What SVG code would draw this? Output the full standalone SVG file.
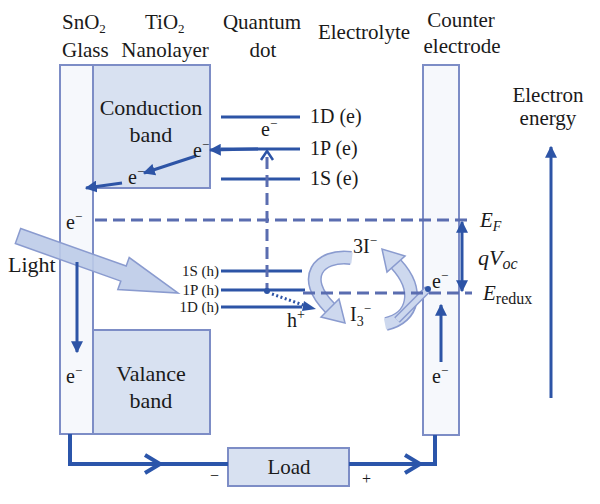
<svg xmlns="http://www.w3.org/2000/svg" width="600" height="504" viewBox="0 0 600 504" font-family="'Liberation Serif', 'DejaVu Serif', serif">
<defs>
<style>
text{font-family:'Liberation Serif','DejaVu Serif',serif;fill:#1a1a1a}
.h{font-size:21px}
.bl{font-size:22px}
.lv{font-size:20px}
.sm{font-size:15px}
.el{font-size:20px}
.box{fill:#d8e1f1;stroke:#7d8dc6;stroke-width:2}
.elec{fill:#f6f8fc;stroke:#7d8dc6;stroke-width:2}
.lvl{stroke:#2d54a6;stroke-width:3;fill:none}
.dash{stroke:#5a6db0;stroke-width:3;stroke-dasharray:12 6;fill:none}
.wire{stroke:#2b55aa;stroke-width:4;fill:none}
.arr{stroke:#2d54a6;stroke-width:3;fill:none}
.big{fill:#cdd8ee;stroke:#8a9bcf;stroke-width:1.5}
.bo{stroke:#8a9bcf;fill:none}
.bi{stroke:#cdd8ee;fill:none}
</style>
<marker id="ah" viewBox="0 0 10 10" refX="9" refY="5" markerWidth="4" markerHeight="4" orient="auto-start-reverse"><path d="M0,0 L10,5 L0,10 z" fill="#2d54a6"/></marker>
</defs>

<g id="headers">
<text class="h" x="62" y="29">SnO<tspan dy="4" font-size="13">2</tspan></text>
<text class="h" x="62" y="57">Glass</text>
<text class="h" x="145" y="29">TiO<tspan dy="4" font-size="13">2</tspan></text>
<text class="h" x="165" y="57" text-anchor="middle">Nanolayer</text>
<text class="h" x="262" y="29" text-anchor="middle">Quantum</text>
<text class="h" x="263" y="57" text-anchor="middle">dot</text>
<text class="h" x="364" y="39" text-anchor="middle">Electrolyte</text>
<text class="h" x="461" y="27" text-anchor="middle">Counter</text>
<text class="h" x="462" y="53" text-anchor="middle">electrode</text>
<text class="h" x="548" y="102" text-anchor="middle">Electron</text>
<text class="h" x="548" y="125" text-anchor="middle">energy</text>
</g>

<g id="glass"><rect class="elec" x="60" y="65" width="33" height="369"/></g>
<g id="conduction-band">
<rect class="box" x="93" y="65" width="117" height="123"/>
<text class="bl" x="151" y="115" text-anchor="middle">Conduction</text>
<text class="bl" x="151" y="142" text-anchor="middle">band</text>
</g>
<g id="valance-band">
<rect class="box" x="93" y="330" width="117" height="104"/>
<text class="bl" x="151" y="381" text-anchor="middle">Valance</text>
<text class="bl" x="151" y="408" text-anchor="middle">band</text>
</g>
<g id="counter-electrode"><rect class="elec" x="423" y="65" width="36" height="370"/></g>

<g id="load">
<rect class="box" x="228" y="448" width="121" height="38"/>
<text class="h" x="289" y="474" text-anchor="middle">Load</text>
</g>

<g id="light">
<g transform="translate(18,236) rotate(19.6)"><path class="big" fill-opacity="0.9" d="M0,-8 H112 V-17 L170,0 L112,17 V8 H0 Z" style="fill:#bccbe8"/></g>
<text class="bl" x="8" y="272">Light</text>
</g>

<g id="qd-levels">
<line class="lvl" x1="221" y1="117" x2="300" y2="117"/>
<line class="lvl" x1="221" y1="149" x2="300" y2="149"/>
<line class="lvl" x1="221" y1="179" x2="300" y2="179"/>
<text class="lv" x="310" y="123">1D (e)</text>
<text class="lv" x="310" y="155">1P (e)</text>
<text class="lv" x="310" y="185">1S (e)</text>
<line class="lvl" x1="221" y1="271" x2="302" y2="271"/>
<line class="lvl" x1="221" y1="290" x2="305" y2="290" stroke-width="4"/>
<line class="lvl" x1="221" y1="307" x2="302" y2="307"/>
<text class="sm" x="219" y="276" text-anchor="end">1S (h)</text>
<text class="sm" x="219" y="295" text-anchor="end">1P (h)</text>
<text class="sm" x="219" y="312" text-anchor="end">1D (h)</text>
</g>

<g id="redox-arrows">
<path class="bo" stroke-width="14" d="M351,258 C318,254 300,278 330,308"/>
<path class="bi" stroke-width="11" d="M352,258 C318,254 300,278 330,308"/>
<path class="big" d="M339,299 L345,323 L321,317 Z"/>
<path class="bo" stroke-width="14" d="M386,324 C414,318 420,290 396,264"/>
<path class="bi" stroke-width="11" d="M385,324 C414,318 420,290 396,264"/>
<path class="big" d="M405,256 L382,249 L387,272 Z"/>
<path class="bo" stroke-width="8" d="M428,289 L397,320"/>
<path class="bi" stroke-width="5" d="M428,289 L397,320"/>
<circle cx="428" cy="289" r="3" fill="#2d54a6"/>
</g>

<g id="connectors">
<line class="dash" x1="95" y1="220" x2="472" y2="220"/>
<line class="dash" x1="303" y1="293" x2="472" y2="293"/>
<line class="dash" x1="267" y1="157" x2="267" y2="290"/>
<path d="M261,160 L267,151 L273,160" stroke="#2d54a6" stroke-width="2.5" fill="none"/>
<circle cx="267" cy="291" r="3" fill="#2d54a6"/>
<line class="arr" stroke-width="4" x1="258" y1="149" x2="210" y2="150" marker-end="url(#ah)"/>
<line class="arr" x1="196" y1="156" x2="144" y2="173" marker-end="url(#ah)"/>
<line class="arr" x1="122" y1="183" x2="86" y2="188" marker-end="url(#ah)"/>
<line class="arr" stroke-dasharray="2 2.5" stroke-width="2.5" x1="272" y1="294" x2="306" y2="306"/>
<path d="M304,301 L316,309 L302,311 Z" fill="#2d54a6"/>
<line class="arr" x1="77" y1="262" x2="77" y2="352" marker-end="url(#ah)"/>
<line class="arr" x1="441" y1="362" x2="441" y2="305" marker-end="url(#ah)"/>
<line class="arr" stroke-width="2" x1="462" y1="222" x2="462" y2="291" marker-start="url(#ah)" marker-end="url(#ah)"/>
<line class="arr" x1="551" y1="398" x2="551" y2="147" marker-end="url(#ah)"/>
<path class="wire" d="M70,434 V464 H228"/>
<path class="wire" d="M349,464 H435 V435"/>
<path class="wire" d="M145,455 L160,464 L145,473"/>
<path class="wire" d="M405,455 L420,464 L405,473"/>
</g>

<g id="labels">
<text class="el" x="261" y="136">e<tspan dy="-8" font-size="13">−</tspan></text>
<text class="el" x="193" y="157">e<tspan dy="-8" font-size="13">−</tspan></text>
<text class="el" x="128" y="184">e<tspan dy="-8" font-size="13">−</tspan></text>
<text class="el" x="66" y="229">e<tspan dy="-8" font-size="13">−</tspan></text>
<text class="el" x="66" y="383">e<tspan dy="-8" font-size="13">−</tspan></text>
<text class="el" x="432" y="383">e<tspan dy="-8" font-size="13">−</tspan></text>
<text class="el" x="432" y="288">e<tspan dy="-8" font-size="13">−</tspan></text>
<text class="el" x="353" y="253" font-size="19">3I<tspan dy="-8" font-size="13">−</tspan></text>
<text class="el" x="350" y="321" font-size="19">I<tspan dy="5" font-size="14">3</tspan><tspan dy="-13" font-size="13">−</tspan></text>
<text class="el" x="287" y="327">h<tspan dy="-8" font-size="14">+</tspan></text>
<text x="480" y="227" font-size="21" font-style="italic">E<tspan dy="4" font-size="14">F</tspan></text>
<text x="478" y="265" font-size="22" font-style="italic">qV<tspan dy="4" font-size="16">oc</tspan></text>
<text x="483" y="300" font-size="21" font-style="italic">E<tspan dy="4" font-size="16" font-style="normal">redux</tspan></text>
<text x="210" y="481" font-size="16">−</text>
<text x="362" y="484" font-size="16">+</text>
</g>
</svg>
